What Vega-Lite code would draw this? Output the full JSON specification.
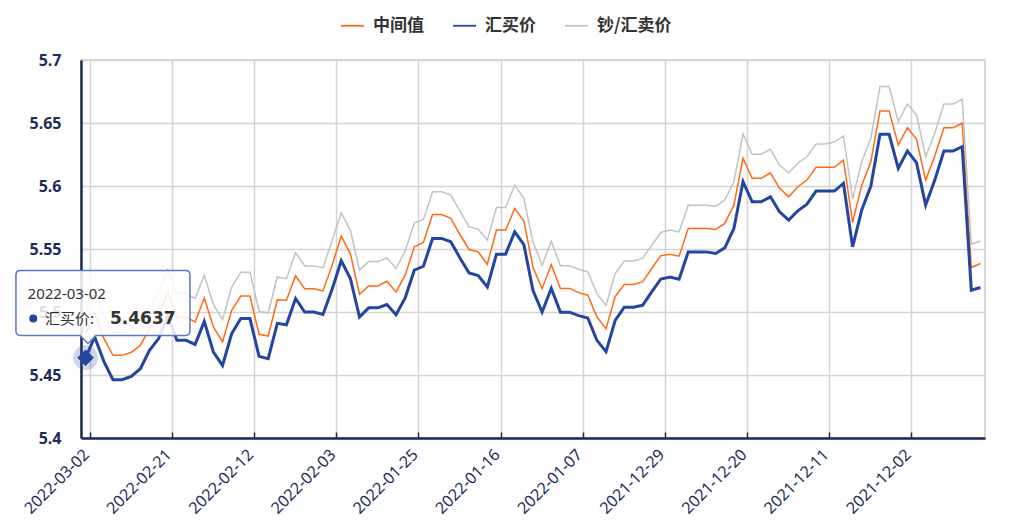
{
  "$schema": "https://vega.github.io/schema/vega-lite/v6.json",
  "autosize": {"type": "none"},
  "width": 904,
  "height": 378,
  "padding": {"left": 81, "top": 60, "right": 39, "bottom": 94},
  "background": "#ffffff",
  "config": {
    "view": {"stroke": "#cccccc", "strokeWidth": 1.5},
    "font": "Noto Sans"
  },
  "datasets": {
    "rates": [
      {"d": "2022-03-02", "中间值": 5.4823, "汇买价": 5.4637, "钞/汇卖价": 5.5006},
      {"d": "2022-03-01", "中间值": 5.4986, "汇买价": 5.4801, "钞/汇卖价": 5.5169},
      {"d": "2022-02-28", "中间值": 5.4791, "汇买价": 5.4608, "钞/汇卖价": 5.4974},
      {"d": "2022-02-27", "中间值": 5.4656, "汇买价": 5.4463, "钞/汇卖价": 5.4839},
      {"d": "2022-02-26", "中间值": 5.4656, "汇买价": 5.4463, "钞/汇卖价": 5.4839},
      {"d": "2022-02-25", "中间值": 5.4680, "汇买价": 5.4489, "钞/汇卖价": 5.4862},
      {"d": "2022-02-24", "中间值": 5.4735, "汇买价": 5.4550, "钞/汇卖价": 5.4918},
      {"d": "2022-02-23", "中间值": 5.4870, "汇买价": 5.4696, "钞/汇卖价": 5.5053},
      {"d": "2022-02-22", "中间值": 5.4966, "汇买价": 5.4789, "钞/汇卖价": 5.5149},
      {"d": "2022-02-21", "中间值": 5.5154, "汇买价": 5.4970, "钞/汇卖价": 5.5337},
      {"d": "2022-02-20", "中间值": 5.4960, "汇买价": 5.4775, "钞/汇卖价": 5.5146},
      {"d": "2022-02-19", "中间值": 5.4960, "汇买价": 5.4775, "钞/汇卖价": 5.5146},
      {"d": "2022-02-18", "中间值": 5.4921, "汇买价": 5.4743, "钞/汇卖价": 5.5107},
      {"d": "2022-02-17", "中间值": 5.5111, "汇买价": 5.4926, "钞/汇卖价": 5.5292},
      {"d": "2022-02-16", "中间值": 5.4881, "汇买价": 5.4682, "钞/汇卖价": 5.5059},
      {"d": "2022-02-15", "中间值": 5.4762, "汇买价": 5.4576, "钞/汇卖价": 5.4940},
      {"d": "2022-02-14", "中间值": 5.5014, "汇买价": 5.4828, "钞/汇卖价": 5.5196},
      {"d": "2022-02-13", "中间值": 5.5127, "汇买价": 5.4948, "钞/汇卖价": 5.5316},
      {"d": "2022-02-12", "中间值": 5.5127, "汇买价": 5.4948, "钞/汇卖价": 5.5316},
      {"d": "2022-02-11", "中间值": 5.4823, "汇买价": 5.4648, "钞/汇卖价": 5.5006},
      {"d": "2022-02-10", "中间值": 5.4809, "汇买价": 5.4630, "钞/汇卖价": 5.4992},
      {"d": "2022-02-09", "中间值": 5.5097, "汇买价": 5.4910, "钞/汇卖价": 5.5278},
      {"d": "2022-02-08", "中间值": 5.5093, "汇买价": 5.4898, "钞/汇卖价": 5.5264},
      {"d": "2022-02-07", "中间值": 5.5288, "汇买价": 5.5107, "钞/汇卖价": 5.5472},
      {"d": "2022-02-06", "中间值": 5.5184, "汇买价": 5.5000, "钞/汇卖价": 5.5366},
      {"d": "2022-02-05", "中间值": 5.5184, "汇买价": 5.5000, "钞/汇卖价": 5.5366},
      {"d": "2022-02-04", "中间值": 5.5167, "汇买价": 5.4980, "钞/汇卖价": 5.5350},
      {"d": "2022-02-03", "中间值": 5.5371, "汇买价": 5.5181, "钞/汇卖价": 5.5570},
      {"d": "2022-02-02", "中间值": 5.5602, "汇买价": 5.5407, "钞/汇卖价": 5.5787},
      {"d": "2022-02-01", "中间值": 5.5464, "汇买价": 5.5266, "钞/汇卖价": 5.5650},
      {"d": "2022-01-31", "中间值": 5.5141, "汇买价": 5.4960, "钞/汇卖价": 5.5332},
      {"d": "2022-01-30", "中间值": 5.5207, "汇买价": 5.5033, "钞/汇卖价": 5.5400},
      {"d": "2022-01-29", "中间值": 5.5207, "汇买价": 5.5033, "钞/汇卖价": 5.5400},
      {"d": "2022-01-28", "中间值": 5.5244, "汇买价": 5.5059, "钞/汇卖价": 5.5429},
      {"d": "2022-01-27", "中间值": 5.5159, "汇买价": 5.4979, "钞/汇卖价": 5.5345},
      {"d": "2022-01-26", "中间值": 5.5292, "汇买价": 5.5111, "钞/汇卖价": 5.5483},
      {"d": "2022-01-25", "中间值": 5.5517, "汇买价": 5.5332, "钞/汇卖价": 5.5708},
      {"d": "2022-01-24", "中间值": 5.5552, "汇买价": 5.5363, "钞/汇卖价": 5.5735},
      {"d": "2022-01-23", "中间值": 5.5774, "汇买价": 5.5584, "钞/汇卖价": 5.5954},
      {"d": "2022-01-22", "中间值": 5.5774, "汇买价": 5.5584, "钞/汇卖价": 5.5954},
      {"d": "2022-01-21", "中间值": 5.5743, "汇买价": 5.5557, "钞/汇卖价": 5.5928},
      {"d": "2022-01-20", "中间值": 5.5615, "汇买价": 5.5429, "钞/汇卖价": 5.5801},
      {"d": "2022-01-19", "中间值": 5.5496, "汇买价": 5.5310, "钞/汇卖价": 5.5676},
      {"d": "2022-01-18", "中间值": 5.5477, "汇买价": 5.5289, "钞/汇卖价": 5.5658},
      {"d": "2022-01-17", "中间值": 5.5379, "汇买价": 5.5199, "钞/汇卖价": 5.5570},
      {"d": "2022-01-16", "中间值": 5.5650, "汇买价": 5.5459, "钞/汇卖价": 5.5830},
      {"d": "2022-01-15", "中间值": 5.5650, "汇买价": 5.5459, "钞/汇卖价": 5.5830},
      {"d": "2022-01-14", "中间值": 5.5822, "汇买价": 5.5636, "钞/汇卖价": 5.6007},
      {"d": "2022-01-13", "中间值": 5.5721, "汇买价": 5.5534, "钞/汇卖价": 5.5902},
      {"d": "2022-01-12", "中间值": 5.5355, "汇买价": 5.5170, "钞/汇卖价": 5.5554},
      {"d": "2022-01-11", "中间值": 5.5184, "汇买价": 5.5000, "钞/汇卖价": 5.5371},
      {"d": "2022-01-10", "中间值": 5.5377, "汇买价": 5.5188, "钞/汇卖价": 5.5562},
      {"d": "2022-01-09", "中间值": 5.5187, "汇买价": 5.4999, "钞/汇卖价": 5.5368},
      {"d": "2022-01-08", "中间值": 5.5187, "汇买价": 5.4999, "钞/汇卖价": 5.5368},
      {"d": "2022-01-07", "中间值": 5.5154, "汇买价": 5.4971, "钞/汇卖价": 5.5339},
      {"d": "2022-01-06", "中间值": 5.5133, "汇买价": 5.4952, "钞/汇卖价": 5.5318},
      {"d": "2022-01-05", "中间值": 5.4960, "汇买价": 5.4775, "钞/汇卖价": 5.5146},
      {"d": "2022-01-04", "中间值": 5.4868, "汇买价": 5.4685, "钞/汇卖价": 5.5053},
      {"d": "2022-01-03", "中间值": 5.5122, "汇买价": 5.4934, "钞/汇卖价": 5.5305},
      {"d": "2022-01-02", "中间值": 5.5218, "汇买价": 5.5038, "钞/汇卖价": 5.5405},
      {"d": "2022-01-01", "中间值": 5.5218, "汇买价": 5.5038, "钞/汇卖价": 5.5405},
      {"d": "2021-12-31", "中间值": 5.5239, "汇买价": 5.5053, "钞/汇卖价": 5.5425},
      {"d": "2021-12-30", "中间值": 5.5345, "汇买价": 5.5159, "钞/汇卖价": 5.5530},
      {"d": "2021-12-29", "中间值": 5.5447, "汇买价": 5.5262, "钞/汇卖价": 5.5631},
      {"d": "2021-12-28", "中间值": 5.5459, "汇买价": 5.5278, "钞/汇卖价": 5.5650},
      {"d": "2021-12-27", "中间值": 5.5443, "汇买价": 5.5260, "钞/汇卖价": 5.5636},
      {"d": "2021-12-26", "中间值": 5.5663, "汇买价": 5.5477, "钞/汇卖价": 5.5848},
      {"d": "2021-12-25", "中间值": 5.5663, "汇买价": 5.5477, "钞/汇卖价": 5.5848},
      {"d": "2021-12-24", "中间值": 5.5663, "汇买价": 5.5477, "钞/汇卖价": 5.5848},
      {"d": "2021-12-23", "中间值": 5.5655, "汇买价": 5.5464, "钞/汇卖价": 5.5840},
      {"d": "2021-12-22", "中间值": 5.5703, "汇买价": 5.5509, "钞/汇卖价": 5.5888},
      {"d": "2021-12-21", "中间值": 5.5848, "汇买价": 5.5663, "钞/汇卖价": 5.6034},
      {"d": "2021-12-20", "中间值": 5.6220, "汇买价": 5.6034, "钞/汇卖价": 5.6413},
      {"d": "2021-12-19", "中间值": 5.6061, "汇买价": 5.5875, "钞/汇卖价": 5.6251},
      {"d": "2021-12-18", "中间值": 5.6061, "汇买价": 5.5875, "钞/汇卖价": 5.6251},
      {"d": "2021-12-17", "中间值": 5.6105, "汇买价": 5.5914, "钞/汇卖价": 5.6291},
      {"d": "2021-12-16", "中间值": 5.5981, "汇买价": 5.5795, "钞/汇卖价": 5.6166},
      {"d": "2021-12-15", "中间值": 5.5914, "汇买价": 5.5729, "钞/汇卖价": 5.6105},
      {"d": "2021-12-14", "中间值": 5.5994, "汇买价": 5.5803, "钞/汇卖价": 5.6180},
      {"d": "2021-12-13", "中间值": 5.6047, "汇买价": 5.5856, "钞/汇卖价": 5.6232},
      {"d": "2021-12-12", "中间值": 5.6148, "汇买价": 5.5960, "钞/汇卖价": 5.6333},
      {"d": "2021-12-11", "中间值": 5.6148, "汇买价": 5.5960, "钞/汇卖价": 5.6333},
      {"d": "2021-12-10", "中间值": 5.6148, "汇买价": 5.5960, "钞/汇卖价": 5.6349},
      {"d": "2021-12-09", "中间值": 5.6206, "汇买价": 5.6021, "钞/汇卖价": 5.6397},
      {"d": "2021-12-08", "中间值": 5.5709, "汇买价": 5.5517, "钞/汇卖价": 5.5896},
      {"d": "2021-12-07", "中间值": 5.6007, "汇买价": 5.5809, "钞/汇卖价": 5.6193},
      {"d": "2021-12-06", "中间值": 5.6193, "汇买价": 5.5999, "钞/汇卖价": 5.6379},
      {"d": "2021-12-05", "中间值": 5.6596, "汇买价": 5.6410, "钞/汇卖价": 5.6789},
      {"d": "2021-12-04", "中间值": 5.6596, "汇买价": 5.6410, "钞/汇卖价": 5.6789},
      {"d": "2021-12-03", "中间值": 5.6325, "汇买价": 5.6140, "钞/汇卖价": 5.6511},
      {"d": "2021-12-02", "中间值": 5.6463, "汇买价": 5.6278, "钞/汇卖价": 5.6651},
      {"d": "2021-12-01", "中间值": 5.6371, "汇买价": 5.6185, "钞/汇卖价": 5.6564},
      {"d": "2021-11-30", "中间值": 5.6047, "汇买价": 5.5848, "钞/汇卖价": 5.6232},
      {"d": "2021-11-29", "中间值": 5.6238, "汇买价": 5.6047, "钞/汇卖价": 5.6418},
      {"d": "2021-11-28", "中间值": 5.6463, "汇买价": 5.6278, "钞/汇卖价": 5.6651},
      {"d": "2021-11-27", "中间值": 5.6463, "汇买价": 5.6278, "钞/汇卖价": 5.6651},
      {"d": "2021-11-26", "中间值": 5.6498, "汇买价": 5.6312, "钞/汇卖价": 5.6689},
      {"d": "2021-11-25", "中间值": 5.5353, "汇买价": 5.5173, "钞/汇卖价": 5.5538},
      {"d": "2021-11-24", "中间值": 5.5385, "汇买价": 5.5194, "钞/汇卖价": 5.5564}
    ],
    "tip": [
      {"d": "2022-03-02", "v": 5.4637, "name": "汇买价:", "val": "5.4637"}
    ]
  },
  "layer": [
    {
      "data": {"name": "rates"},
      "transform": [
        {"fold": ["中间值", "汇买价", "钞/汇卖价"], "as": ["series", "value"]}
      ],
      "mark": {"type": "line", "interpolate": "linear"},
      "encoding": {
        "x": {
          "field": "d",
          "type": "ordinal",
          "sort": "descending",
          "scale": {"type": "band", "paddingInner": 0, "paddingOuter": 0},
          "axis": {
            "title": null,
            "values": ["2022-03-02", "2022-02-21", "2022-02-12", "2022-02-03", "2022-01-25", "2022-01-16", "2022-01-07", "2021-12-29", "2021-12-20", "2021-12-11", "2021-12-02"],
            "bandPosition": 1,
            "labelOffset": -4.57,
            "grid": true,
            "gridColor": "#d4d4d4",
            "gridWidth": 1.5,
            "ticks": true,
            "tickSize": -6,
            "tickColor": "#1d2b5c",
            "tickWidth": 1.5,
            "domainColor": "#1d2b5c",
            "domainWidth": 2.5,
            "labelAngle": -45,
            "labelFont": "Noto Sans",
            "labelFontSize": 16,
            "labelColor": "#1d2b5c",
            "labelPadding": 14
          }
        },
        "y": {
          "field": "value",
          "type": "quantitative",
          "scale": {"domain": [5.4, 5.7], "zero": false, "nice": false},
          "axis": {
            "title": null,
            "values": [5.4, 5.45, 5.5, 5.55, 5.6, 5.65, 5.7],
            "format": "~g",
            "grid": true,
            "gridColor": "#d4d4d4",
            "gridWidth": 1.5,
            "ticks": false,
            "domainColor": "#1d2b5c",
            "domainWidth": 2.5,
            "labelFont": "Noto Sans",
            "labelFontSize": 16,
            "labelFontWeight": "bold",
            "labelColor": "#1d2b5c",
            "labelPadding": 20
          }
        },
        "color": {
          "field": "series",
          "type": "nominal",
          "scale": {"domain": ["中间值", "汇买价", "钞/汇卖价"], "range": ["#ff6a14", "#2446a0", "#c3c3c3"]},
          "legend": {
            "title": null,
            "orient": "none",
            "legendX": 259,
            "legendY": -47,
            "direction": "horizontal",
            "padding": 0,
            "symbolType": "stroke",
            "symbolSize": 529,
            "symbolStrokeWidth": 1.8,
            "labelFont": "Noto Sans CJK SC",
            "labelFontSize": 17,
            "labelFontWeight": "bold",
            "labelColor": "#333333",
            "labelOffset": 8,
            "columnPadding": 25
          }
        },
        "strokeWidth": {
          "condition": {"test": "datum.series === '汇买价'", "value": 3},
          "value": 1.5
        }
      }
    },
    {
      "data": {"name": "tip"},
      "mark": {"type": "point", "shape": "circle", "size": 616, "filled": true, "fill": "#2446a0", "opacity": 0.22, "strokeWidth": 0},
      "encoding": {
        "x": {"field": "d", "type": "ordinal", "sort": "descending"},
        "y": {"field": "v", "type": "quantitative"}
      }
    },
    {
      "data": {"name": "tip"},
      "mark": {"type": "point", "shape": "diamond", "size": 240, "filled": true, "fill": "#2446a0", "opacity": 1, "stroke": "#2446a0", "strokeWidth": 1},
      "encoding": {
        "x": {"field": "d", "type": "ordinal", "sort": "descending"},
        "y": {"field": "v", "type": "quantitative"}
      }
    },
    {
      "data": {"name": "tip"},
      "mark": {
        "type": "point",
        "shape": "M -0.593 -0.794 L 0.909 -0.794 Q 0.949 -0.794 0.949 -0.754 L 0.949 -0.243 Q 0.949 -0.203 0.909 -0.203 L 0.095 -0.203 L 0.022 -0.13 L -0.051 -0.203 L -0.593 -0.203 Q -0.633 -0.203 -0.633 -0.243 L -0.633 -0.754 Q -0.633 -0.794 -0.593 -0.794 Z",
        "size": 48400,
        "filled": true,
        "fill": "#ffffff",
        "fillOpacity": 0.86,
        "opacity": 1,
        "stroke": "#5a77c4",
        "strokeWidth": 1.5
      },
      "encoding": {
        "x": {"field": "d", "type": "ordinal", "sort": "descending"},
        "y": {"field": "v", "type": "quantitative"}
      }
    },
    {
      "data": {"name": "tip"},
      "mark": {"type": "text", "align": "left", "baseline": "middle", "dx": -58, "dy": -63.5, "font": "Noto Sans", "fontSize": 15, "color": "#333333"},
      "encoding": {
        "x": {"field": "d", "type": "ordinal", "sort": "descending"},
        "y": {"field": "v", "type": "quantitative"},
        "text": {"field": "d"}
      }
    },
    {
      "data": {"name": "tip"},
      "mark": {"type": "point", "shape": "circle", "size": 64, "filled": true, "fill": "#2446a0", "opacity": 1, "strokeWidth": 0, "xOffset": -52.3, "yOffset": -39.2},
      "encoding": {
        "x": {"field": "d", "type": "ordinal", "sort": "descending"},
        "y": {"field": "v", "type": "quantitative"}
      }
    },
    {
      "data": {"name": "tip"},
      "mark": {"type": "text", "align": "left", "baseline": "middle", "dx": -40.6, "dy": -39, "font": "Noto Sans CJK SC", "fontSize": 15, "color": "#333333"},
      "encoding": {
        "x": {"field": "d", "type": "ordinal", "sort": "descending"},
        "y": {"field": "v", "type": "quantitative"},
        "text": {"field": "name"}
      }
    },
    {
      "data": {"name": "tip"},
      "mark": {"type": "text", "align": "left", "baseline": "middle", "dx": 24.4, "dy": -39, "font": "DejaVu Sans", "fontSize": 17, "fontWeight": "bold", "color": "#333333"},
      "encoding": {
        "x": {"field": "d", "type": "ordinal", "sort": "descending"},
        "y": {"field": "v", "type": "quantitative"},
        "text": {"field": "val"}
      }
    }
  ]
}
